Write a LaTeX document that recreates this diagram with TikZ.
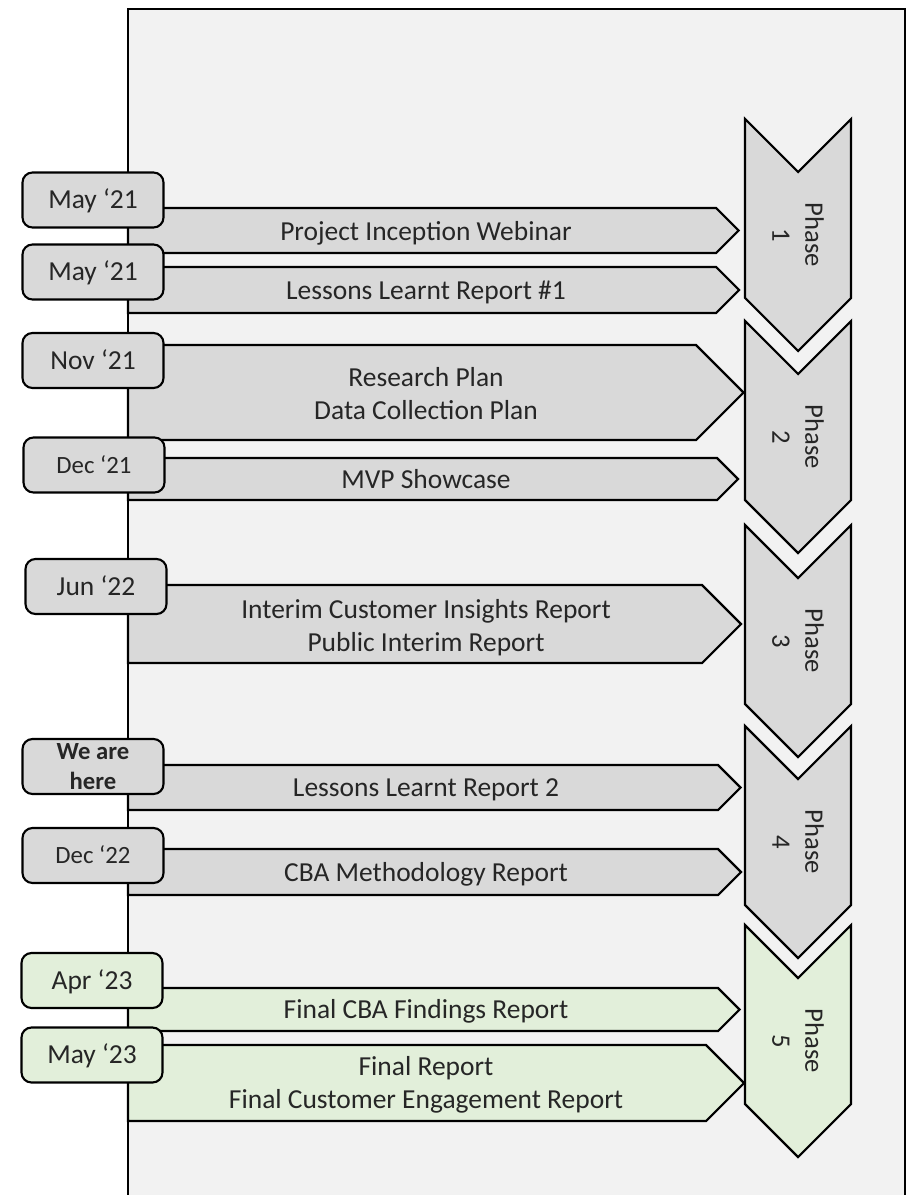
\documentclass[tikz,border=0pt]{standalone}
\usepackage{fontspec}
\setmainfont{Carlito}
\usepackage{xcolor}
\definecolor{panelgray}{HTML}{F2F2F2}
\definecolor{boxgray}{HTML}{D9D9D9}
\definecolor{boxgreen}{HTML}{E2EFDA}
\definecolor{textgray}{HTML}{262626}

\tikzset{
  deliv/.style={draw=black, fill=boxgray, line width=1.6pt},
  phase/.style={draw=black, fill=boxgray, line width=1.6pt},
  datebox/.style={draw=black, fill=boxgray, line width=1.6pt, rounded corners=7.5pt,
    minimum width=105.75pt, minimum height=41.25pt, inner sep=0pt, text=textgray,
    font=\fontsize{20.6}{24.75}\selectfont},
  capcentre/.style={text height=13.3pt, text depth=0pt},
  smalldate/.style={font=\fontsize{18.6}{22.5}\selectfont, text height=12pt},
  delivtext/.style={text=textgray, align=center, inner sep=0pt,
    font=\fontsize{20.6}{24.75}\selectfont},
  phasetext/.style={text=textgray, align=center, rotate=-90, inner sep=0pt,
    font=\fontsize{20}{24.75}\selectfont}
}

\begin{document}
\begin{tikzpicture}[x=0.75pt, y=-0.75pt]
   \fill[white] (0,0) rectangle (908,1195);
   \useasboundingbox (0,0) rectangle (908,1195);

   % panel and timeline
   \fill[panelgray] (128,9) rectangle (905,1195);
   \draw[line width=1.6pt] (128,1195) -- (128,9) -- (905,9) -- (905,1195);

   % phases
   \draw[phase] (745,119) -- ++(53,53) -- ++(53,-53) -- ++(0,179) -- ++(-53,53) -- ++(-53,-53) -- cycle;
   \draw[phase] (745,321) -- ++(53,53) -- ++(53,-53) -- ++(0,179) -- ++(-53,53) -- ++(-53,-53) -- cycle;
   \draw[phase] (745,525) -- ++(53,53) -- ++(53,-53) -- ++(0,179) -- ++(-53,53) -- ++(-53,-53) -- cycle;
   \draw[phase] (745,726) -- ++(53,53) -- ++(53,-53) -- ++(0,179) -- ++(-53,53) -- ++(-53,-53) -- cycle;
   \draw[phase, fill=boxgreen] (745,925) -- ++(53,53) -- ++(53,-53) -- ++(0,179) -- ++(-53,53) -- ++(-53,-53) -- cycle;

   \node[phasetext, name=ph1] at (798,235) {Phase\\1};
   \node[phasetext, name=ph2] at (798,437) {Phase\\2};
   \node[phasetext, name=ph3] at (798,641) {Phase\\3};
   \node[phasetext, name=ph4] at (798,842) {Phase\\4};
   \node[phasetext, name=ph5] at (798,1041) {Phase\\5};

   % deliverables
   \draw[deliv] (128,208) -- (716,208) -- (738.5,230.5) -- (716,253) -- (128,253) -- cycle;
   \draw[deliv] (128,267) -- (716,267) -- (739,290) -- (716,313) -- (128,313) -- cycle;
   \draw[deliv] (128,345) -- (696,345) -- (743.5,392.5) -- (696,440) -- (128,440) -- cycle;
   \draw[deliv] (128,458) -- (717,458) -- (738,479) -- (717,500) -- (128,500) -- cycle;
   \draw[deliv] (128,585) -- (702,585) -- (741,624) -- (702,663) -- (128,663) -- cycle;
   \draw[deliv] (128,765) -- (718,765) -- (740.5,787.5) -- (718,810) -- (128,810) -- cycle;
   \draw[deliv] (128,849) -- (718,849) -- (741,872) -- (718,895) -- (128,895) -- cycle;
   \draw[deliv, fill=boxgreen] (128,988) -- (718,988) -- (739.5,1009.5) -- (718,1031) -- (128,1031) -- cycle;
   \draw[deliv, fill=boxgreen] (128,1045) -- (706,1045) -- (744,1083) -- (706,1121) -- (128,1121) -- cycle;

   \node[delivtext, capcentre, name=webinar] at (426,231.5) {Project Inception Webinar};
   \node[delivtext, capcentre, name=lessons1] at (426,290.5) {Lessons Learnt Report \#1};
   \node[delivtext, name=research] at (426,394) {Research Plan\\Data Collection Plan};
   \node[delivtext, capcentre, name=mvp] at (426,479.5) {MVP Showcase};
   \node[delivtext, name=interim] at (426,628) {Interim Customer Insights Report\\Public Interim Report};
   \node[delivtext, capcentre, name=lessons2] at (426,788) {Lessons Learnt Report 2};
   \node[delivtext, capcentre, name=cbameth] at (426,873) {CBA Methodology Report};
   \node[delivtext, capcentre, name=cbafind] at (426,1010) {Final CBA Findings Report};
   \node[delivtext, name=final] at (426,1085) {Final Report\\Final Customer Engagement Report};

   % dates on the timeline
   \node[datebox, capcentre, name=d1] at (93,200) {May ‘21};
   \node[datebox, capcentre, name=d2] at (93,272) {May ‘21};
   \node[datebox, capcentre, name=d3] at (93,360.5) {Nov ‘21};
   \node[datebox, capcentre, smalldate, name=d4] at (94,465) {Dec ‘21};
   \node[datebox, capcentre, name=d5] at (96,586.5) {Jun ‘22};
   \node[datebox, align=center, font=\bfseries\fontsize{18.5}{22.5}\selectfont, name=d6] at (93,766.5) {We are\\here};
   \node[datebox, capcentre, smalldate, name=d7] at (93,855.5) {Dec ‘22};
   \node[datebox, capcentre, fill=boxgreen, name=d8] at (92,980.5) {Apr ‘23};
   \node[datebox, capcentre, fill=boxgreen, name=d9] at (92,1055) {May ‘23};
\end{tikzpicture}
\end{document}
